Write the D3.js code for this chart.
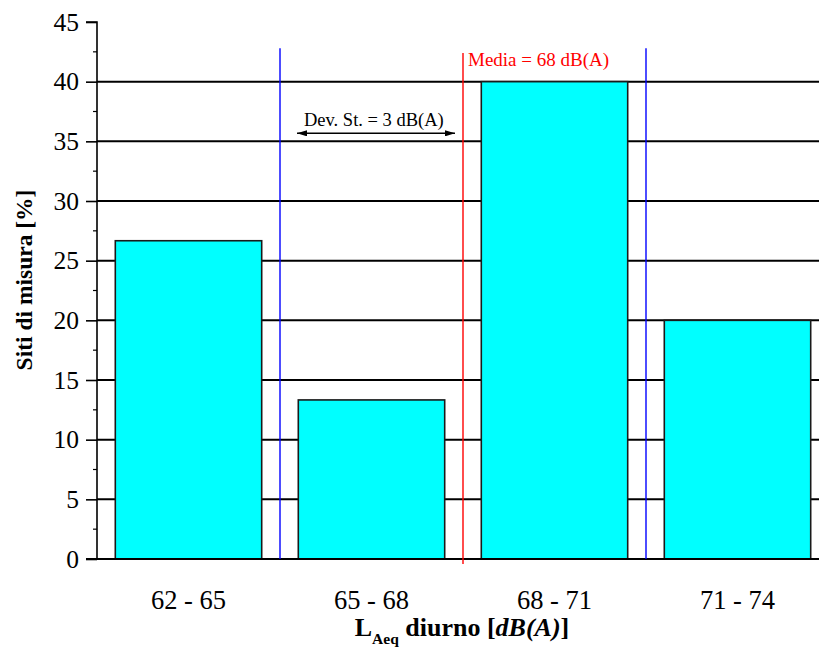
<!DOCTYPE html>
<html><head><meta charset="utf-8">
<script src="https://cdn.jsdelivr.net/npm/d3@7"></script>
<style>body{margin:0;background:#fff}svg{display:block}text{font-family:"Liberation Serif","Times New Roman",serif}</style>
</head><body>
<svg id="c" width="819" height="657"></svg>
<script>
const categories = ["62 - 65", "65 - 68", "68 - 71", "71 - 74"];
const values = [26.67, 13.33, 40, 20];
const yTicks = [0, 5, 10, 15, 20, 25, 30, 35, 40, 45];
const meanDb = 68;
const sdDb = 3;
const dbRange = [62, 74];

(function () {
const svg = d3.select("#c");
const pl = 97, pr = 829, pt = 22, pb = 559;

const y = d3.scaleLinear().domain([0, 45]).range([pb, pt]);
const x = d3.scaleBand().domain(categories).range([pl, pr]).paddingInner(0.2).paddingOuter(0.1);
const xdb = d3.scaleLinear().domain(dbRange).range([pl, pr]);

// gridlines
svg.append("g").selectAll("line").data(yTicks.filter(d => d < 45)).join("line")
  .attr("x1", pl).attr("x2", 819).attr("y1", d => y(d)).attr("y2", d => y(d))
  .attr("stroke", "#000").attr("stroke-width", 2);

// bars
svg.append("g").selectAll("rect").data(values).join("rect")
  .attr("x", (d, i) => x(categories[i])).attr("width", x.bandwidth())
  .attr("y", d => y(d)).attr("height", d => y(0) - y(d))
  .attr("fill", "#00ffff").attr("stroke", "#1a1a1a").attr("stroke-width", 1.6);

// y axis
const yAxis = d3.axisLeft(y).tickValues(yTicks).tickSize(11).tickPadding(7).tickFormat(d3.format("d"));
const gy = svg.append("g").attr("transform", `translate(${pl},0)`).call(yAxis);
gy.select(".domain").attr("stroke-width", 1.6).attr("d", `M-11,${pt}H0V${pb}`);
gy.selectAll(".tick line").attr("stroke-width", 1.6);
gy.selectAll(".tick text").attr("font-size", 25.5).attr("fill", "#000");
// minor y ticks
svg.append("g").selectAll("line").data(d3.range(2.5, 45, 5)).join("line")
  .attr("x1", pl - 4).attr("x2", pl).attr("y1", d => y(d)).attr("y2", d => y(d))
  .attr("stroke", "#000").attr("stroke-width", 1.2);

// x axis baseline
svg.append("line").attr("x1", pl - 11).attr("x2", 819).attr("y1", pb).attr("y2", pb)
  .attr("stroke", "#000").attr("stroke-width", 2);
// x category labels
svg.append("g").selectAll("text").data(categories).join("text")
  .attr("x", d => x(d) + x.bandwidth() / 2).attr("y", 609)
  .attr("text-anchor", "middle").attr("font-size", 26.5).text(d => d);

// vertical reference lines
const lineTop = 42.8;
[meanDb - sdDb, meanDb + sdDb].forEach(v => {
  svg.append("line").attr("x1", xdb(v)).attr("x2", xdb(v)).attr("y1", y(lineTop)).attr("y2", y(0))
    .attr("stroke", "#0000ff").attr("stroke-width", 1.4);
});
svg.append("line").attr("x1", xdb(meanDb)).attr("x2", xdb(meanDb)).attr("y1", y(42.4)).attr("y2", y(0) + 5)
  .attr("stroke", "#ff0000").attr("stroke-width", 1.4);
svg.append("text").attr("x", xdb(meanDb) + 5).attr("y", 66).attr("fill", "#ff0000")
  .attr("font-size", 19).text("Media = " + meanDb + " dB(A)");

// SD arrow
const defs = svg.append("defs");
defs.append("marker").attr("id", "ah").attr("viewBox", "0 0 10 6").attr("refX", 10).attr("refY", 3)
  .attr("markerWidth", 10).attr("markerHeight", 6).attr("markerUnits", "userSpaceOnUse").attr("orient", "auto-start-reverse")
  .append("path").attr("d", "M0,0L10,3L0,6Z").attr("fill", "#000");
const ay = y(35) - 8;
svg.append("line").attr("x1", xdb(meanDb - sdDb) + 17).attr("x2", xdb(meanDb) - 8).attr("y1", ay).attr("y2", ay)
  .attr("stroke", "#000").attr("stroke-width", 1.5)
  .attr("marker-start", "url(#ah)").attr("marker-end", "url(#ah)");
svg.append("text").attr("x", 304).attr("y", 126).attr("font-size", 18.5).text("Dev. St. = " + sdDb + " dB(A)");

// axis titles
svg.append("text").attr("transform", "translate(32,280) rotate(-90)").attr("text-anchor", "middle")
  .attr("font-size", 23.5).attr("font-weight", "bold").text("Siti di misura [%]");
const xt = svg.append("text").attr("x", 462).attr("y", 636).attr("text-anchor", "middle")
  .attr("font-size", 26).attr("font-weight", "bold");
xt.append("tspan").text("L");
xt.append("tspan").attr("font-size", 15.5).attr("dy", 8).text("Aeq");
xt.append("tspan").attr("dy", -8).text(" diurno [");
xt.append("tspan").attr("font-style", "italic").text("dB(A)");
xt.append("tspan").text("]");
})();
</script>
</body></html>
